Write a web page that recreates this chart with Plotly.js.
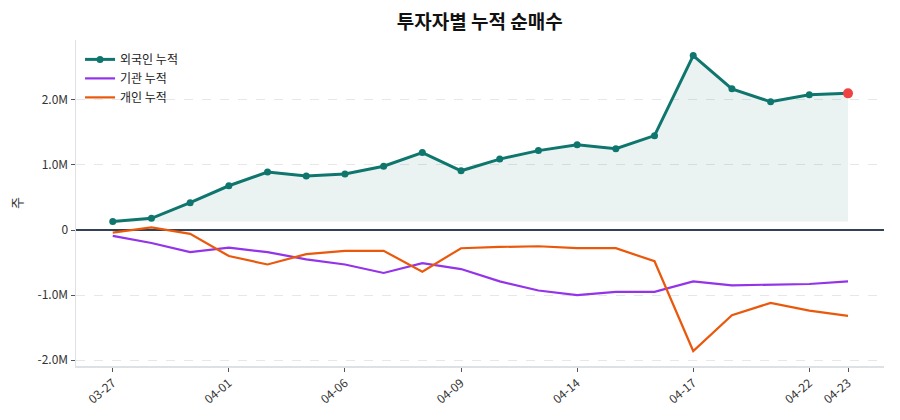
<!DOCTYPE html>
<html>
<head>
<meta charset="utf-8">
<script src="https://cdn.plot.ly/plotly-3.0.1.min.js"></script>
<style>
  html, body { margin: 0; padding: 0; background: #ffffff; }
  #chart { width: 900px; height: 420px; }
</style>
</head>
<body>
<div id="chart"></div>
<script>
// Trading days (MM-DD)
const dates = ['03-27','03-30','03-31','04-01','04-02','04-03','04-06','04-07','04-08','04-09',
               '04-10','04-13','04-14','04-15','04-16','04-17','04-20','04-21','04-22','04-23'];

// Cumulative net buying by investor type (shares)
const foreignCum = [130000, 180000, 420000, 680000, 890000, 830000, 860000, 980000, 1190000, 910000,
                    1090000, 1220000, 1310000, 1250000, 1450000, 2680000, 2170000, 1970000, 2080000, 2100000];
const institutionCum = [-90000, -200000, -340000, -270000, -340000, -450000, -530000, -660000, -510000, -600000,
                        -790000, -930000, -1000000, -950000, -950000, -790000, -850000, -840000, -830000, -790000];
const individualCum = [-40000, 40000, -60000, -400000, -530000, -370000, -320000, -320000, -640000, -280000,
                       -260000, -250000, -280000, -280000, -480000, -1860000, -1310000, -1120000, -1240000, -1320000];

const tickDates = ['03-27','04-01','04-06','04-09','04-14','04-17','04-22','04-23'];
const yTickVals = [-2000000, -1000000, 0, 1000000, 2000000];
const yTickText = ['-2.0M', '-1.0M', '0', '1.0M', '2.0M'];

const TEAL = '#0f766e';
const PURPLE = '#9333ea';
const ORANGE = '#ea580c';
const FONT = '"Noto Sans CJK KR", "Noto Sans", sans-serif';

const xIdx = dates.map((_, i) => i);
const tickIdx = tickDates.map(d => dates.indexOf(d));
const foreignFloor = Math.min(...foreignCum);
const last = dates.length - 1;

const traces = [
  { // shading baseline for the foreign area
    x: xIdx, y: dates.map(() => foreignFloor),
    mode: 'lines', line: { width: 0, color: 'rgba(0,0,0,0)' },
    showlegend: false, hoverinfo: 'skip'
  },
  { // shaded area under foreign line
    x: xIdx, y: foreignCum,
    mode: 'lines', line: { width: 0, color: 'rgba(0,0,0,0)' },
    fill: 'tonexty', fillcolor: 'rgba(15,118,110,0.085)',
    showlegend: false, hoverinfo: 'skip'
  },
  {
    x: xIdx, y: foreignCum, name: '외국인 누적',
    mode: 'lines+markers',
    line: { color: TEAL, width: 3 },
    marker: { color: TEAL, size: 7 }
  },
  {
    x: xIdx, y: institutionCum, name: '기관 누적',
    mode: 'lines', line: { color: PURPLE, width: 2.2 }
  },
  {
    x: xIdx, y: individualCum, name: '개인 누적',
    mode: 'lines', line: { color: ORANGE, width: 2.2 }
  },
  { // latest foreign value highlighted
    x: [last], y: [foreignCum[last]],
    mode: 'markers', marker: { color: '#ef4444', size: 10 },
    showlegend: false
  }
];

const layout = {
  width: 900, height: 420,
  margin: { l: 76, r: 16, t: 40, b: 54 },
  paper_bgcolor: '#ffffff', plot_bgcolor: '#ffffff',
  font: { family: FONT, size: 12, color: '#333333' },
  title: {
    text: '투자자별 누적 순매수',
    font: { family: FONT, size: 19, color: '#111111', weight: 'bold' },
    x: 0.533, xanchor: 'center', y: 0.946, yanchor: 'middle'
  },
  showlegend: true,
  legend: {
    x: 0.005, y: 0.985, xanchor: 'left', yanchor: 'top',
    traceorder: 'normal',
    bgcolor: 'rgba(255,255,255,0)', borderwidth: 0,
    font: { family: FONT, size: 12, color: '#222222' },
    tracegroupgap: 0, itemwidth: 30
  },
  xaxis: {
    range: [-0.95, 19.93],
    tickmode: 'array', tickvals: tickIdx, ticktext: tickDates,
    tickangle: -40, ticks: 'outside', ticklen: 4, tickcolor: '#555555',
    tickfont: { family: FONT, size: 12, color: '#333333' },
    showgrid: false, zeroline: false,
    showline: true, linecolor: '#dde1e6', linewidth: 1.5
  },
  yaxis: {
    range: [-2090000, 2920000],
    tickmode: 'array', tickvals: yTickVals, ticktext: yTickText,
    ticks: 'outside', ticklen: 4, tickcolor: '#555555',
    tickfont: { family: FONT, size: 12, color: '#333333' },
    showgrid: true, gridcolor: '#e5e7eb', griddash: 'dash', gridwidth: 1,
    zeroline: true, zerolinecolor: '#334155', zerolinewidth: 1.3,
    showline: true, linecolor: '#dde1e6', linewidth: 1.5,
    title: { text: '주', font: { family: FONT, size: 13, color: '#333333' }, standoff: 12 }
  }
};

Plotly.newPlot('chart', traces, layout, { displayModeBar: false, staticPlot: true });
</script>
</body>
</html>
